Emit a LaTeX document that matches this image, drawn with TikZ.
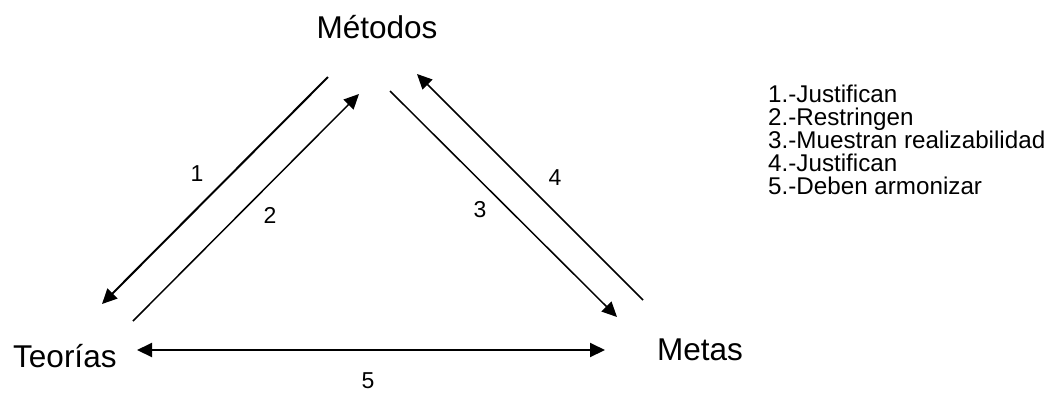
\documentclass[tikz,border=0pt]{standalone}
\usepackage{fontspec}
\setmainfont{Liberation Sans}
\usetikzlibrary{arrows.meta}

\begin{document}
\begin{tikzpicture}[
    x=1pt, y=-1pt,
    concepto/.style={inner sep=0pt, font=\fontsize{31.5}{37}\selectfont},
    numero/.style={inner sep=0pt, font=\fontsize{23}{27}\selectfont},
    leyenda/.style={inner sep=0pt, anchor=base west, font=\fontsize{24.2}{23}\selectfont},
    flecha/.style={draw, line width=1.5pt, -{Triangle[length=15pt, width=14pt]}},
    gruesa/.style={line width=2pt}
]
    \useasboundingbox (0,0) rectangle (1049,392);

    \node[concepto, anchor=base] (metodos) at (377,38) {Métodos};
    \node[concepto, anchor=base west] (teorias) at (13,367) {Teorías};
    \node[concepto, anchor=base west] (metas) at (657,360) {Metas};

    \coordinate (a1) at (328,77);  \coordinate (b1) at (102,304);
    \coordinate (a2) at (133,321); \coordinate (b2) at (359,94);
    \coordinate (a3) at (390,91);  \coordinate (b3) at (617,317);
    \coordinate (a4) at (643,300); \coordinate (b4) at (417,74);
    \coordinate (a5) at (137,350); \coordinate (b5) at (605,350);

    \draw[flecha, gruesa] (a1) -- (b1);
    \draw[flecha] (a2) -- (b2);
    \draw[flecha] (a3) -- (b3);
    \draw[flecha] (a4) -- (b4);
    \draw[flecha, gruesa, {Triangle[length=15pt, width=14pt]}-{Triangle[length=15pt, width=14pt]}] (a5) -- (b5);

    \node[numero] (n1) at (197,174) {1};
    \node[numero] (n2) at (270,215) {2};
    \node[numero] (n3) at (480,210) {3};
    \node[numero] (n4) at (555,178) {4};
    \node[numero] (n5) at (368,381) {5};

    \foreach \i/\t in {1/Justifican, 2/Restringen, 3/Muestran realizabilidad, 4/Justifican, 5/Deben armonizar}
        \node[leyenda] (ley\i) at (768,{102+23*(\i-1)}) {\i.-\t};
\end{tikzpicture}
\end{document}
